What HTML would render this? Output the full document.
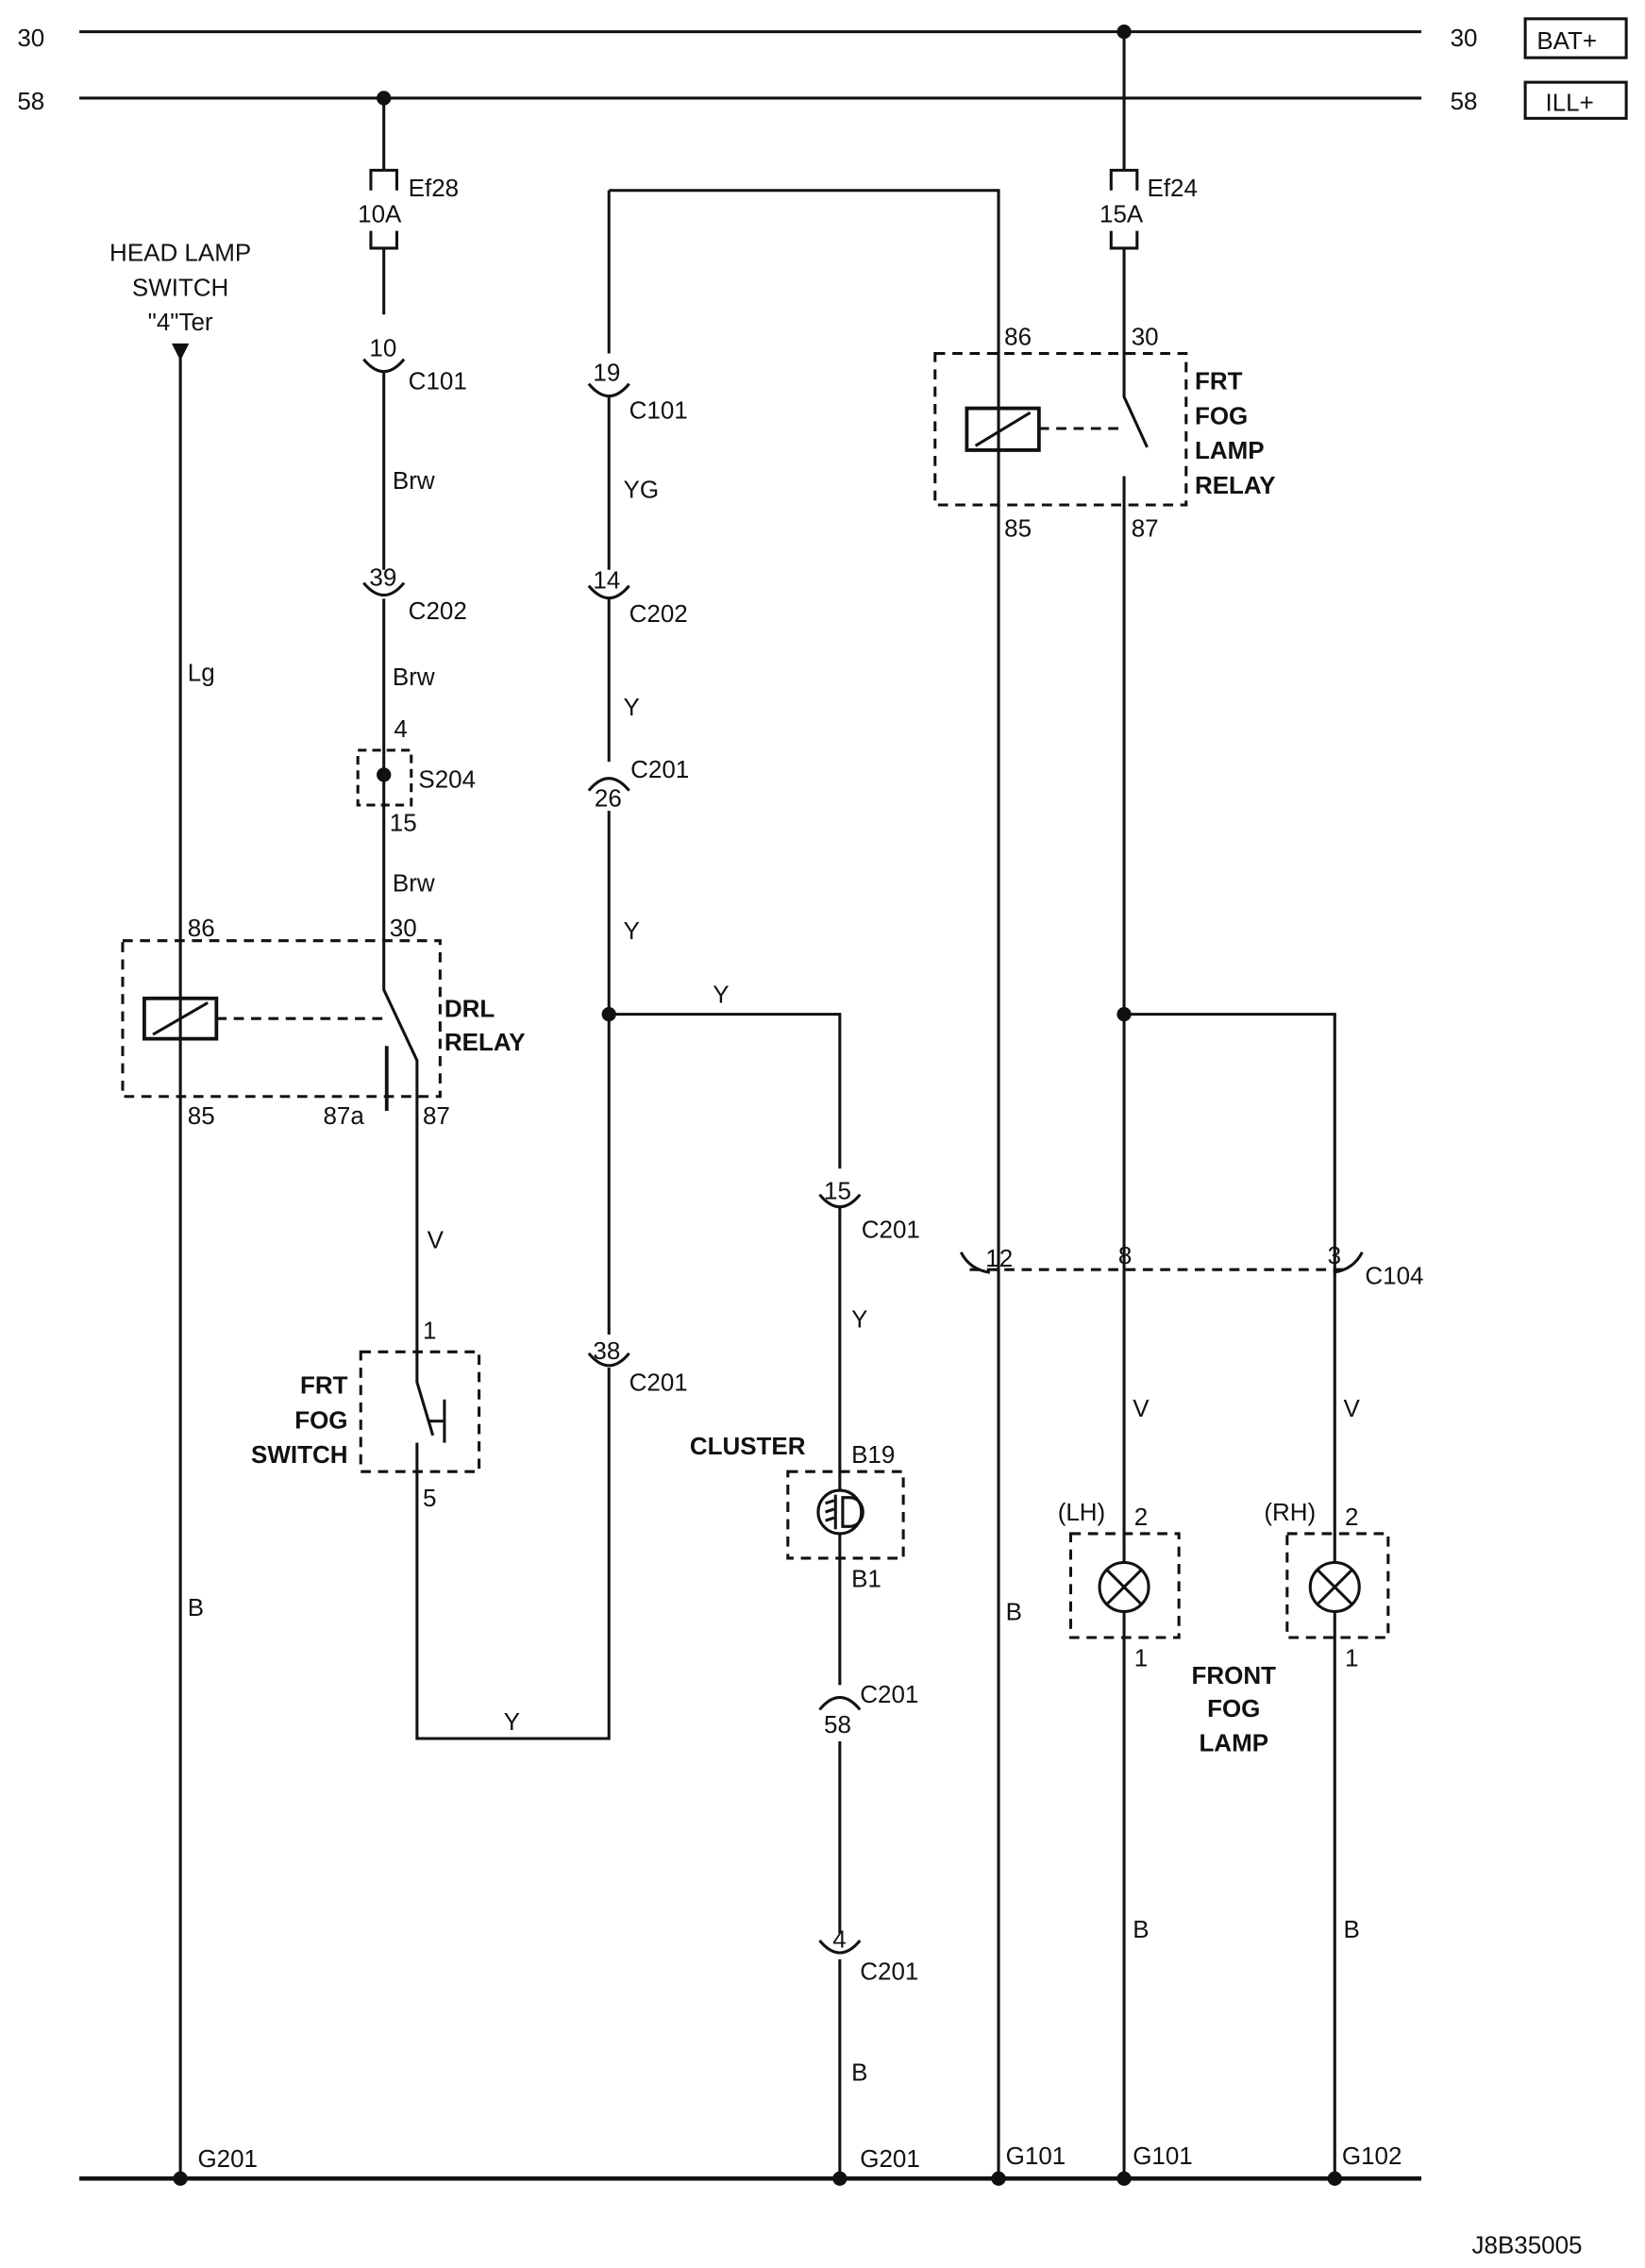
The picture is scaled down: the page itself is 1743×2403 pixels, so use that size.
<!DOCTYPE html>
<html><head><meta charset="utf-8"><style>
html,body{margin:0;padding:0;background:#fff}
svg{display:block}
text{font-family:"Liberation Sans",sans-serif;font-size:17px;fill:#111}
.b{font-weight:bold}
</style></head><body>
<svg width="1743" height="2403" viewBox="0 0 1140 1572" preserveAspectRatio="none" xmlns="http://www.w3.org/2000/svg">
<g stroke="#111" stroke-width="2" fill="none">
<!-- buses -->
<line x1="55" y1="22" x2="985" y2="22"/>
<line x1="55" y1="68" x2="985" y2="68"/>
<line x1="55" y1="1510" x2="985" y2="1510" stroke-width="3"/>
<rect x="1057" y="13" width="70" height="27"/>
<rect x="1057" y="57" width="70" height="25"/>
<!-- HL switch column -->
<line x1="125" y1="245" x2="125" y2="1510"/>
<!-- DRL relay -->
<rect x="85" y="652" width="220" height="108" stroke-dasharray="7,5"/>
<rect x="100" y="692" width="50" height="28" stroke-width="2.5"/>
<line x1="106" y1="717" x2="144" y2="695"/>
<line x1="150" y1="706" x2="266" y2="706" stroke-dasharray="7,5"/>
<polyline points="266,172 266,218"/>
<polyline points="266,257 266,395"/>
<polyline points="266,415 266,686 289,735 289,958 300,995"/>
<line x1="268" y1="725" x2="268" y2="770" stroke-width="2.5"/>
<!-- fog switch -->
<rect x="250" y="937" width="82" height="83" stroke-dasharray="7,5"/>
<line x1="297" y1="985" x2="307" y2="985"/>
<line x1="308" y1="970" x2="308" y2="1000"/>
<polyline points="289,1000 289,1205 422,1205 422,948"/>
<polyline points="422,925 422,562"/>
<polyline points="422,132 422,245"/>
<polyline points="422,274 422,395"/>
<polyline points="422,415 422,528"/>
<polyline points="422,703 582,703 582,810"/>
<line x1="582" y1="836" x2="582" y2="1033"/>
<line x1="582" y1="1063" x2="582" y2="1168"/>
<line x1="582" y1="1207" x2="582" y2="1340"/>
<line x1="582" y1="1358" x2="582" y2="1510"/>
<rect x="546" y="1020" width="80" height="60" stroke-dasharray="7,5"/>
<circle cx="582" cy="1048" r="15"/>
<!-- top wire to relay -->
<polyline points="422,132 692,132 692,1510"/>
<!-- fog lamp relay -->
<rect x="648" y="245" width="174" height="105" stroke-dasharray="7,5"/>
<rect x="670" y="283" width="50" height="29" stroke-width="2.5"/>
<line x1="676" y1="309" x2="714" y2="286"/>
<line x1="720" y1="297" x2="779" y2="297" stroke-dasharray="7,5"/>
<polyline points="779,22 779,118"/>
<polyline points="779,172 779,275 795,310"/>
<polyline points="779,330 779,1510"/>
<polyline points="779,703 925,703 925,1510"/>
<!-- C104 -->
<line x1="672" y1="880" x2="935" y2="880" stroke-dasharray="7,5"/>
<path d="M666,868 Q672,880 686,882"/>
<path d="M944,868 Q938,880 924,882"/>
<!-- lamps -->
<rect x="742" y="1063" width="75" height="72" stroke-dasharray="7,5"/>
<circle cx="779" cy="1100" r="17" fill="#fff"/>
<line x1="767" y1="1088" x2="791" y2="1112"/><line x1="791" y1="1088" x2="767" y2="1112"/>
<rect x="892" y="1063" width="70" height="72" stroke-dasharray="7,5"/>
<circle cx="925" cy="1100" r="17" fill="#fff"/>
<line x1="913" y1="1088" x2="937" y2="1112"/><line x1="937" y1="1088" x2="913" y2="1112"/>
<!-- fuses -->
<path d="M257,132 V118 H275 V132"/><path d="M257,160 V172 H275 V160"/>
<line x1="266" y1="68" x2="266" y2="118"/>
<path d="M770,132 V118 H788 V132"/><path d="M770,160 V172 H788 V160"/>
<!-- S204 -->
<rect x="248" y="520" width="37" height="38" stroke-dasharray="6,4"/>
<!-- connector arcs (smile) -->
<path d="M252,249 Q266,266 280,249"/>
<path d="M408,266 Q422,283 436,266"/>
<path d="M252,404 Q266,421 280,404"/>
<path d="M408,406 Q422,423 436,406"/>
<path d="M408,938 Q422,955 436,938"/>
<path d="M568,828 Q582,845 596,828"/>
<path d="M568,1345 Q582,1362 596,1345"/>
<!-- frown arcs -->
<path d="M408,548 Q422,531 436,548"/>
<path d="M568,1185 Q582,1168 596,1185"/>
<!-- cluster symbol -->
<path d="M584,1038 h5 a9,10 0 0 1 0,20 h-5 z"/>
<line x1="579" y1="1036" x2="579" y2="1060"/>
<line x1="572" y1="1042" x2="578" y2="1040"/><line x1="572" y1="1048" x2="578" y2="1046"/><line x1="572" y1="1054" x2="578" y2="1052"/>
</g>
<g fill="#111">
<circle cx="779" cy="22" r="5"/><circle cx="266" cy="68" r="5"/>
<circle cx="266" cy="537" r="5"/><circle cx="422" cy="703" r="5"/><circle cx="779" cy="703" r="5"/>
<circle cx="125" cy="1510" r="5"/><circle cx="582" cy="1510" r="5"/><circle cx="692" cy="1510" r="5"/><circle cx="779" cy="1510" r="5"/><circle cx="925" cy="1510" r="5"/>
<polygon points="119,238 131,238 125,250"/>
</g>
<text x="12" y="32">30</text><text x="12" y="76">58</text>
<text x="1005" y="32">30</text><text x="1005" y="76">58</text>
<text x="1065" y="34">BAT+</text><text x="1071" y="77">ILL+</text>
<text x="125" y="181" text-anchor="middle">HEAD LAMP</text>
<text x="125" y="205" text-anchor="middle">SWITCH</text>
<text x="125" y="229" text-anchor="middle">"4"Ter</text>
<text x="283" y="136">Ef28</text><text x="248" y="154">10A</text>
<text x="795" y="136">Ef24</text><text x="762" y="154">15A</text>
<text x="256" y="247">10</text><text x="283" y="270">C101</text>
<text x="272" y="339">Brw</text>
<text x="256" y="406">39</text><text x="283" y="429">C202</text>
<text x="272" y="475">Brw</text>
<text x="273" y="511">4</text><text x="290" y="546">S204</text><text x="270" y="576">15</text>
<text x="272" y="618">Brw</text>
<text x="130" y="472">Lg</text>
<text x="130" y="649">86</text><text x="270" y="649">30</text>
<text x="130" y="779">85</text><text x="224" y="779">87a</text><text x="293" y="779">87</text>
<text x="308" y="705" class="b">DRL</text><text x="308" y="728" class="b">RELAY</text>
<text x="296" y="865">V</text>
<text x="293" y="928">1</text><text x="293" y="1044">5</text>
<text x="241" y="966" class="b" text-anchor="end">FRT</text>
<text x="241" y="990" class="b" text-anchor="end">FOG</text>
<text x="241" y="1014" class="b" text-anchor="end">SWITCH</text>
<text x="349" y="1199">Y</text>
<text x="130" y="1120">B</text><text x="137" y="1502">G201</text>
<text x="411" y="264">19</text><text x="436" y="290">C101</text>
<text x="432" y="345">YG</text>
<text x="411" y="408">14</text><text x="436" y="431">C202</text>
<text x="432" y="496">Y</text>
<text x="437" y="539">C201</text><text x="412" y="559">26</text>
<text x="432" y="651">Y</text>
<text x="494" y="695">Y</text>
<text x="411" y="942">38</text><text x="436" y="964">C201</text>
<text x="571" y="831">15</text><text x="597" y="858">C201</text>
<text x="590" y="920">Y</text>
<text x="478" y="1008" class="b">CLUSTER</text><text x="590" y="1014">B19</text>
<text x="590" y="1100">B1</text>
<text x="596" y="1180">C201</text><text x="571" y="1201">58</text>
<text x="577" y="1350">4</text><text x="596" y="1372">C201</text>
<text x="590" y="1442">B</text><text x="596" y="1502">G201</text>
<text x="696" y="239">86</text><text x="784" y="239">30</text>
<text x="696" y="372">85</text><text x="784" y="372">87</text>
<text x="828" y="270" class="b">FRT</text><text x="828" y="294" class="b">FOG</text><text x="828" y="318" class="b">LAMP</text><text x="828" y="342" class="b">RELAY</text>
<text x="683" y="878">12</text><text x="775" y="876">8</text><text x="920" y="876">3</text><text x="946" y="890">C104</text>
<text x="785" y="982">V</text><text x="931" y="982">V</text>
<text x="733" y="1054">(LH)</text><text x="786" y="1057">2</text><text x="786" y="1155">1</text>
<text x="876" y="1054">(RH)</text><text x="932" y="1057">2</text><text x="932" y="1155">1</text>
<text x="855" y="1167" class="b" text-anchor="middle">FRONT</text>
<text x="855" y="1190" class="b" text-anchor="middle">FOG</text>
<text x="855" y="1214" class="b" text-anchor="middle">LAMP</text>
<text x="697" y="1123">B</text>
<text x="785" y="1343">B</text><text x="931" y="1343">B</text>
<text x="697" y="1500">G101</text><text x="785" y="1500">G101</text><text x="930" y="1500">G102</text>
<text x="1020" y="1562">J8B35005</text>
</svg>
</body></html>
